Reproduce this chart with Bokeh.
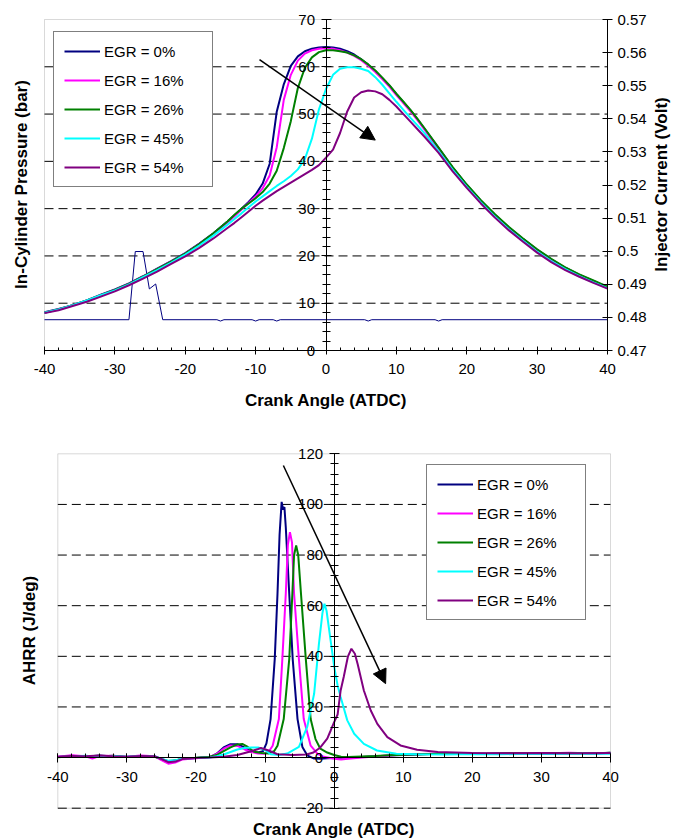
import math
from bokeh.plotting import figure
from bokeh.models import (Range1d, LinearAxis, SingleIntervalTicker, FixedTicker, Legend,
                          LegendItem, Arrow, NormalHead, CustomJSTickFormatter, Label,
                          BoxAnnotation)
from bokeh.layouts import column
from bokeh.embed import file_html
from bokeh.resources import INLINE

FONT = "Liberation Sans"

# ---------------- data: in-cylinder pressure (bar) ----------------
CA_P = [-40, -38, -36, -34, -32, -30, -28, -26, -24, -22, -20, -18, -16, -14,
        -13, -12, -11, -10, -9, -8, -7, -6, -5, -4, -3, -2, -1, 0, 1, 2, 3, 4, 5, 6,
        7, 8, 9, 10, 11, 12, 13, 14,
        16, 18, 20, 22, 24, 26, 28, 30, 32, 34, 36, 38, 40]
P_0 = [8.1, 8.8, 9.6, 10.6, 11.8, 12.9, 14.2, 15.7, 17.3, 18.9, 20.6, 22.6, 24.8, 27.3,
       28.6, 30.0, 31.4, 33.0, 35.3, 39.5, 50.5, 56.3, 60.2, 62.2, 63.3, 63.8, 64.1, 64.2,
       64.1, 63.8, 63.3, 62.6, 61.6, 60.4, 59.1, 57.6, 56.0, 54.2, 52.5, 50.8, 48.9, 46.9,
       42.8, 38.7, 35.0, 31.7, 28.7, 26.0, 23.6, 21.3, 19.3, 17.5, 16.0, 14.7, 13.4]
P_16 = [8.0, 8.7, 9.6, 10.6, 11.7, 12.8, 14.1, 15.6, 17.2, 18.8, 20.5, 22.5, 24.7, 27.1,
        28.4, 29.8, 31.2, 32.6, 34.3, 37.0, 43.0, 53.0, 58.3, 61.3, 62.8, 63.5, 63.8, 63.9,
        63.8, 63.5, 63.0, 62.3, 61.4, 60.2, 58.9, 57.4, 55.8, 54.0, 52.3, 50.6, 48.7, 46.7,
        42.6, 38.5, 34.8, 31.5, 28.5, 25.8, 23.4, 21.1, 19.1, 17.4, 15.9, 14.6, 13.3]
P_26 = [8.0, 8.7, 9.6, 10.6, 11.7, 12.8, 14.1, 15.6, 17.2, 18.8, 20.5, 22.5, 24.8, 27.3,
        28.7, 30.0, 31.1, 32.2, 33.5, 35.3, 38.0, 42.8, 48.5, 55.5, 59.8, 62.0, 63.1, 63.5,
        63.5, 63.3, 63.0, 62.4, 61.6, 60.5, 59.2, 57.7, 56.1, 54.3, 52.6, 50.9, 49.0, 47.0,
        42.9, 38.8, 35.1, 31.8, 28.8, 26.1, 23.7, 21.4, 19.4, 17.6, 16.1, 14.8, 13.5]
P_45 = [8.0, 8.7, 9.6, 10.6, 11.7, 12.7, 14.0, 15.5, 17.0, 18.6, 20.3, 22.2, 24.3, 26.6,
        27.8, 29.0, 30.3, 31.5, 32.6, 33.7, 34.8, 35.8, 36.9, 38.3, 40.5, 44.8, 51.0, 55.3,
        58.3, 59.6, 59.9, 59.9, 59.6, 59.1, 57.8, 56.2, 54.4, 52.6, 50.9, 49.2, 47.6, 45.9,
        42.1, 38.2, 34.6, 31.3, 28.3, 25.6, 23.2, 20.9, 18.9, 17.2, 15.7, 14.4, 13.2]
P_54 = [7.9, 8.5, 9.4, 10.3, 11.4, 12.5, 13.8, 15.2, 16.7, 18.3, 19.9, 21.7, 23.7, 25.9,
        27.0, 28.2, 29.4, 30.6, 31.7, 32.7, 33.7, 34.6, 35.5, 36.4, 37.3, 38.2, 39.2, 40.8,
        42.5, 46.0, 50.5, 53.5, 54.6, 55.0, 54.8, 54.2, 53.0, 51.6, 50.0, 48.4, 46.8, 45.2,
        41.8, 37.9, 34.4, 31.1, 28.1, 25.4, 23.0, 20.7, 18.7, 17.0, 15.6, 14.3, 13.1]

# ---------------- data: injector current (Volt) ----------------
INJ_CA = [-40, -28.0, -27.1, -26.0, -25.1, -24.2, -23.2, -15.5, -15.0, -14.5, -10.5, -10.0,
          -9.5, -7.5, -7.0, -6.5, 5.5, 6.0, 6.5, 15.5, 16.0, 16.5, 40]
INJ_V = [0.4793, 0.4793, 0.4999, 0.4999, 0.4886, 0.4901, 0.4793, 0.4793, 0.4789, 0.4793,
         0.4793, 0.4789, 0.4793, 0.4793, 0.4789, 0.4793, 0.4793, 0.4789, 0.4793, 0.4793,
         0.4789, 0.4793, 0.4793]
INJ_TICKS = [0.47, 0.48, 0.49, 0.5, 0.51, 0.52, 0.53, 0.54, 0.55, 0.56, 0.57]

# ---------------- data: apparent heat release rate (J/deg) ----------------
H0_CA = [-40, -38, -36, -34, -32, -30, -28, -26, -25, -24, -23, -22, -20, -18, -17, -16, -15,
         -14, -13, -12, -11, -10.3, -9.8, -9.2, -8.6, -8.2, -7.9, -7.6, -7.4, -7.2, -7.0,
         -6.5, -6.0, -5.3, -4.6, -3.9, -2.9, -2, -1, 0, 2, 4, 6, 8, 10, 14, 18, 22, 26, 30,
         34, 38, 40]
H0 = [0.2, 0.7, 0.3, 0.8, 0.4, 0.2, 0.6, 0.4, -0.6, -1.6, -1.2, -0.5, -0.2, 0.2, 1.5, 4.0,
      5.3, 5.3, 4.0, 2.4, 2.0, 2.5, 5.6, 15.2, 38.9, 64.7, 88, 101, 98, 99, 91,
      64.7, 38.9, 15.2, 4.2, 0.9, -0.4, -0.5, -0.3, -0.2, 0, 0.2, 0.5, 0.8, 1.0, 1.4, 1.6,
      1.5, 1.7, 1.6, 1.8, 1.6, 1.9]
H16_CA = [-40, -38, -36, -35, -34, -32, -30, -28, -26, -25, -24, -23, -22, -20, -18, -17, -16,
          -15, -14, -13, -12, -11, -10, -9.5, -8.9, -8.0, -7.5, -7.0, -6.7, -6.4, -6.1, -5.8,
          -5.1, -4.4, -3.4, -2.4, -1.5, 0, 1, 2, 4, 6, 8, 10, 14, 18, 22, 26, 30, 34, 38, 40]
H16 = [0.3, 0.9, 0.5, -0.4, 0.6, 0.7, 0.3, 0.8, 0.5, -1.0, -2.4, -2.0, -0.8, -0.3, 0.2, 1.4,
       3.5, 4.8, 4.6, 3.3, 2.2, 1.6, 1.5, 2.2, 4.7, 15.2, 38.9, 64.7, 84, 89, 85, 64.7,
       38.9, 15.2, 4.7, 1.5, 0.3, -0.5, -0.8, -0.5, 0, 0.4, 0.8, 1.2, 1.5, 1.6, 1.5, 1.8,
       1.6, 1.9, 1.6, 1.8]
H26_CA = [-40, -38, -36, -34, -32, -30, -28, -26, -25, -24, -23, -22, -20, -18, -17, -16, -15,
          -14, -13.3, -12.5, -11.6, -10.5, -9.5, -8.7, -8.2, -7.3, -6.5, -6.05, -5.8, -5.5,
          -5.2, -4.8, -4.1, -3.4, -2.7, -2.0, -1.0, 0, 1, 2, 4, 6, 8, 10, 14, 18, 22, 26, 30,
          34, 38, 40]
H26 = [0.1, 0.5, 0.6, 0.4, 0.7, 0.2, 0.5, 0.3, -0.5, -1.4, -1.2, -0.4, -0.1, 0.3, 1.0, 2.5,
       4.0, 5.2, 5.4, 4.2, 2.3, 1.8, 1.6, 2.5, 4.7, 15.2, 38.9, 64.7, 80, 83.8, 80, 64.7,
       38.9, 15.2, 7.3, 3.5, 2.0, 1.0, 0.3, 0.2, 0.4, 0.6, 0.9, 1.1, 1.4, 1.6, 1.5, 1.7,
       1.6, 1.8, 1.7, 1.9]
H45_CA = [-40, -38, -36, -34, -32, -30, -28, -26, -25, -24, -23, -22, -20, -18, -17, -16, -15,
          -14, -13, -12, -11, -10, -9.2, -8, -6.8, -5.1, -3.9, -2.9, -2.2, -1.7, -1.4, -1.1,
          -0.5, 0, 0.5, 0.94, 1.9, 2.9, 4.3, 6.2, 9, 12, 16, 20, 24, 28, 32, 36, 40]
H45 = [0.2, 0.4, 0.7, 0.3, 0.6, 0.3, 0.5, 0.5, -0.4, -1.3, -1.1, -0.4, -0.2, 0.0, 0.5, 1.2,
       2.2, 3.2, 3.8, 4.0, 4.0, 3.0, 1.3, 1.0, 1.6, 4.2, 12.1, 25.2, 45, 57, 60.8, 58,
       46, 36, 28.5, 23.9, 14.7, 9.4, 5.4, 2.8, 1.5, 1.3, 1.2, 1.4, 1.3, 1.5, 1.4, 1.6, 1.5]
H54_CA = [-40, -38, -36, -34, -32, -30, -28, -26, -25, -24, -23, -22, -20, -18, -16, -14, -12,
          -11, -10.6, -9.5, -8.2, -6, -4, -3, -2, -1, -0.5, 0, 0.5, 0.94, 1.4, 2.0, 2.5, 3.0,
          3.4, 4.3, 5.3, 6.25, 7.7, 9.6, 12, 15, 20, 25, 30, 35, 40]
H54 = [0.3, 0.6, 0.5, 0.8, 0.5, 0.3, 0.6, 0.5, -0.5, -1.8, -1.6, -0.6, -0.2, 0.0, 0.3, 1.0,
       2.5, 3.4, 3.8, 2.8, 1.3, 1.0, 1.2, 2.0, 4.0, 7.5, 10.7, 14, 17, 26.5, 32, 40, 43, 41,
       37, 26.5, 18.6, 13.3, 8.1, 4.8, 3.1, 2.2, 1.8, 1.7, 1.8, 1.7, 1.8]

LABELS = ["EGR = 0%", "EGR = 16%", "EGR = 26%", "EGR = 45%", "EGR = 54%"]
COLORS = ["#000080", "#FF00FF", "#008000", "#00FFFF", "#800080"]

# axis extents / grids
X_LO, X_HI = -40, 40
P_LO, P_HI = 0, 70
V_LO, V_HI = 0.47, 0.57
H_LO, H_HI = -20, 120
P_GRID = [10, 20, 30, 40, 50, 60]
H_GRID = [-20, 20, 40, 60, 80, 100]

# arrows (annotations, data coords)
TOP_ARROW = (-9.45, 61.5, 7.0, 44.5)
BOT_ARROW = (-7.35, 115.4, 7.45, 29.2)

# ---------------- layout (pixels) ----------------
W = 673
H1, H2 = 418, 422
T_XL, T_XR, T_YB, T_YT = 44.0, 607.0, 350.0, 19.0
B_XL, B_XR, B_YB, B_YT = 57.3, 610.0, 389.7, 35.3

TICK_FS = "15px"
TITLE_FS = "17px"
INT_FMT = "return String(Math.round(tick));"


def ranges(xl, xr, yb, yt, h, xlo, xhi, ylo, yhi):
    sx = (xr - xl) / (xhi - xlo)
    sy = (yb - yt) / (yhi - ylo)
    return (xlo - xl / sx, xhi + (W - xr) / sx, ylo - (h - yb) / sy, yhi + yt / sy, sx, sy)


def style_axis(ax, tin, tout, minin, minout, standoff):
    ax.axis_line_color = "black"
    ax.major_tick_line_color = "black"
    ax.minor_tick_line_color = "black"
    ax.major_tick_in = tin
    ax.major_tick_out = tout
    ax.minor_tick_in = minin
    ax.minor_tick_out = minout
    ax.major_label_standoff = standoff
    ax.major_label_text_font = FONT
    ax.major_label_text_font_size = TICK_FS
    ax.major_label_text_color = "black"


def title_label(p, x, y, text, angle=0.0, baseline="middle"):
    p.add_layout(Label(x=x, y=y, text=text, angle=angle, text_align="center",
                       text_baseline=baseline, text_font=FONT, text_font_size=TITLE_FS,
                       text_font_style="bold", text_color="black"))


def make_legend(renderers, loc):
    items = [LegendItem(label=l, renderers=[r]) for l, r in zip(LABELS, renderers)]
    return Legend(items=items, location=loc, margin=0, padding=10, spacing=11,
                  glyph_width=36, glyph_height=18, label_height=18, label_width=98,
                  label_standoff=4, label_text_font=FONT, label_text_font_size="15px",
                  label_text_color="black", border_line_color="black",
                  border_line_width=1, background_fill_color="white",
                  background_fill_alpha=1.0)


def base_figure(h, xr, yr):
    p = figure(width=W, height=h, x_range=Range1d(*xr), y_range=Range1d(*yr),
               output_backend="svg", toolbar_location=None,
               x_axis_location=None, y_axis_location=None,
               min_border=0, min_border_left=0, min_border_right=0,
               min_border_top=0, min_border_bottom=0)
    p.outline_line_color = None
    p.xgrid.visible = False
    p.ygrid.visible = False
    p.background_fill_color = "white"
    p.border_fill_color = "white"
    return p


# =================== top chart ===================
x0, x1, y0, y1, sx1, sy1 = ranges(T_XL, T_XR, T_YB, T_YT, H1, X_LO, X_HI, P_LO, P_HI)
p1 = base_figure(H1, (x0, x1), (y0, y1))
k = (V_HI - V_LO) / (P_HI - P_LO)
p1.extra_y_ranges = {"inj": Range1d(V_LO + (y0 - P_LO) * k, V_LO + (y1 - P_LO) * k)}

p1.add_layout(BoxAnnotation(left=X_LO, right=X_HI, bottom=P_LO, top=P_HI, fill_color=None,
                            line_color="#808080", line_width=1, level="underlay"))
p1.segment(x0=X_LO, x1=X_HI, y0=P_GRID, y1=P_GRID, line_color="black", line_width=1,
           line_dash="9 5")

xa = LinearAxis(ticker=SingleIntervalTicker(interval=10, num_minor_ticks=5),
                fixed_location=P_LO, bounds=(X_LO, X_HI),
                formatter=CustomJSTickFormatter(code=INT_FMT))
style_axis(xa, 4, 4, 3, 0, 9)
p1.add_layout(xa, "below")

ya = LinearAxis(ticker=SingleIntervalTicker(interval=10, num_minor_ticks=5),
                fixed_location=0, bounds=(P_LO, P_HI),
                formatter=CustomJSTickFormatter(code=INT_FMT))
style_axis(ya, 5, 5, 4, 4, 6)
p1.add_layout(ya, "left")

ra = LinearAxis(y_range_name="inj", ticker=FixedTicker(ticks=INJ_TICKS),
                fixed_location=X_HI, bounds=(V_LO, V_HI),
                formatter=CustomJSTickFormatter(code="return String(parseFloat(tick.toFixed(2)));"))
style_axis(ra, 5, 5, 0, 0, 5)
ra.minor_tick_line_color = None
p1.add_layout(ra, "right")

p1.line(INJ_CA, INJ_V, y_range_name="inj", line_color="#000080", line_width=1)
rs1 = []
for ys, c in zip([P_0, P_16, P_26, P_45, P_54], COLORS):
    rs1.append(p1.line(CA_P, ys, line_color=c, line_width=2))

p1.add_layout(make_legend(rs1, (53, 231)))
p1.add_layout(Arrow(end=NormalHead(size=14, fill_color="black", line_color="black"),
                    x_start=TOP_ARROW[0], y_start=TOP_ARROW[1],
                    x_end=TOP_ARROW[2], y_end=TOP_ARROW[3],
                    line_color="black", line_width=1.5))


def t_x(px):
    return x0 + px / sx1


def t_y(py):
    return y0 + (H1 - py) / sy1


title_label(p1, t_x(21), t_y(184), "In-Cylinder Pressure (bar)", angle=math.pi / 2)
title_label(p1, t_x(661), t_y(184), "Injector Current (Volt)", angle=math.pi / 2)
title_label(p1, t_x(325.5), t_y(400), "Crank Angle (ATDC)", baseline="alphabetic")

# =================== bottom chart ===================
bx0, bx1, by0, by1, sx2, sy2 = ranges(B_XL, B_XR, B_YB, B_YT, H2, X_LO, X_HI, H_LO, H_HI)
p2 = base_figure(H2, (bx0, bx1), (by0, by1))

p2.add_layout(BoxAnnotation(left=X_LO, right=X_HI, bottom=H_LO, top=H_HI, fill_color=None,
                            line_color="#808080", line_width=1, level="underlay"))
p2.segment(x0=X_LO, x1=X_HI, y0=H_GRID, y1=H_GRID, line_color="black", line_width=1,
           line_dash="9 5")

xb = LinearAxis(ticker=SingleIntervalTicker(interval=10, num_minor_ticks=5),
                fixed_location=0, bounds=(X_LO, X_HI),
                formatter=CustomJSTickFormatter(code=INT_FMT))
style_axis(xb, 4, 5, 4, 0, 9)
p2.add_layout(xb, "below")

yb = LinearAxis(ticker=SingleIntervalTicker(interval=20, num_minor_ticks=5),
                fixed_location=0, bounds=(H_LO, H_HI),
                formatter=CustomJSTickFormatter(code=INT_FMT))
style_axis(yb, 5, 5, 4, 4, 6)
p2.add_layout(yb, "left")

rs2 = []
for xs, ys, c in zip([H0_CA, H16_CA, H26_CA, H45_CA, H54_CA], [H0, H16, H26, H45, H54], COLORS):
    rs2.append(p2.line(xs, ys, line_color=c, line_width=2))

p2.add_layout(make_legend(rs2, (426, 220)))
p2.add_layout(Arrow(end=NormalHead(size=14, fill_color="black", line_color="black"),
                    x_start=BOT_ARROW[0], y_start=BOT_ARROW[1],
                    x_end=BOT_ARROW[2], y_end=BOT_ARROW[3],
                    line_color="black", line_width=1.5))


def b_x(px):
    return bx0 + px / sx2


def b_y(py):
    return by0 + (H2 - py) / sy2


title_label(p2, b_x(28.5), b_y(212), "AHRR (J/deg)", angle=math.pi / 2)
title_label(p2, b_x(333.5), b_y(411), "Crank Angle (ATDC)", baseline="middle")

layout = column(p1, p2, spacing=0)
open("out.html", "w").write(file_html(layout, INLINE))
